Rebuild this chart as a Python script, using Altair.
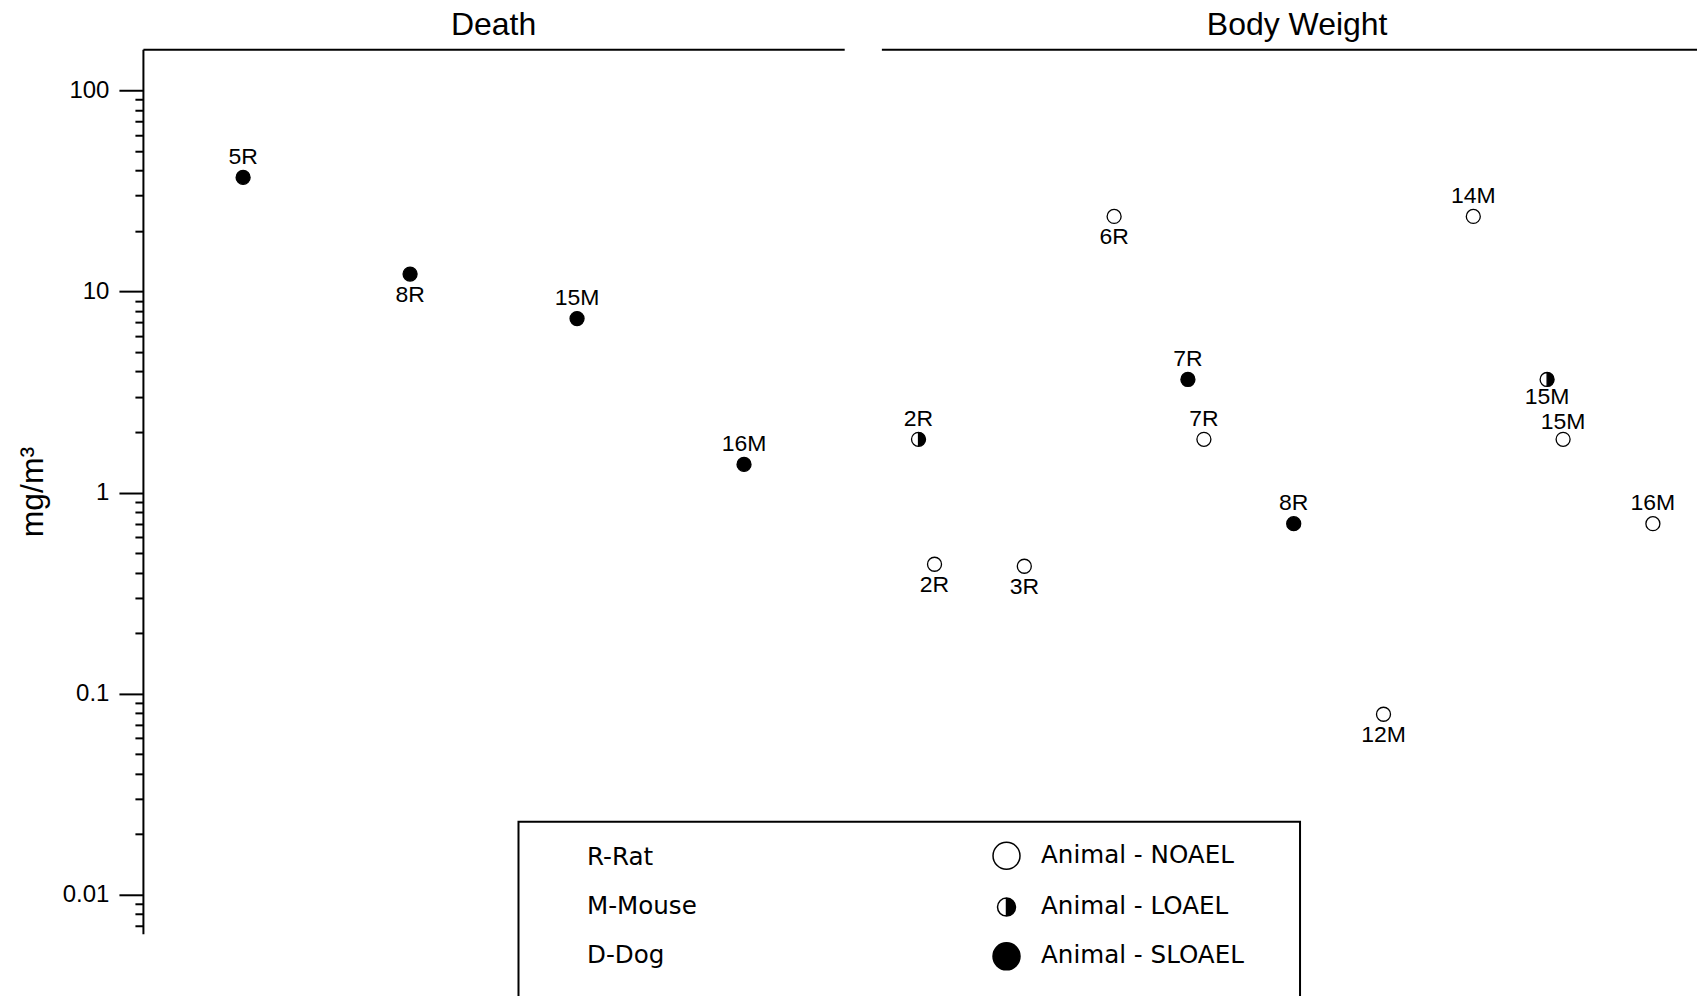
import altair as alt
import pandas as pd

# ---------------- data ----------------
death_study = ["5R", "8R", "15M", "16M"]
death_value = [36.9, 12.2, 7.33, 1.38]
death_level = ["SLOAEL", "SLOAEL", "SLOAEL", "SLOAEL"]
death_side = ["above", "below", "above", "above"]

bw_slots = ["2R", "3R", "6R", "7R", "8R", "12M", "14M", "15M", "16M"]
bw_study = ["2R", "2R", "3R", "6R", "7R", "7R", "8R", "12M", "14M", "15M", "15M", "16M"]
bw_value = [1.84, 0.44, 0.43, 23.6, 3.65, 1.84, 0.70, 0.079, 23.6, 3.65, 1.84, 0.70]
bw_level = ["LOAEL", "NOAEL", "NOAEL", "NOAEL", "SLOAEL", "NOAEL", "SLOAEL",
            "NOAEL", "NOAEL", "LOAEL", "NOAEL", "NOAEL"]
bw_side = ["above", "below", "below", "below", "above", "above", "above",
           "below", "above", "below_near", "above_near", "above"]

species_legend = ["R-Rat", "M-Mouse", "D-Dog"]
level_legend = ["Animal - NOAEL", "Animal - LOAEL", "Animal - SLOAEL"]

major_ticks = [0.01, 0.1, 1, 10, 100]
minor_mult = [2, 3, 4, 5, 6, 7, 8, 9]
y_domain = [0.0064, 160]

df = pd.DataFrame({
    "endpoint": ["Death"] * len(death_study) + ["Body Weight"] * len(bw_study),
    "study": death_study + bw_study,
    "value": death_value + bw_value,
    "level": death_level + bw_level,
    "side": death_side + bw_side,
})

# ---------------- scales / legend ----------------
EMPTY = "M0,0"
r = 0.667
HALF = (f"M0,-{r}A{r},{r},0,1,1,0,{r}A{r},{r},0,1,1,0,-{r}Z"
        f"M0,-{r}A{r},{r},0,0,0,0,{r}Z")
# legend fills column by column: species column, then exposure-level column
legend_domain = species_legend + [" "] + level_legend + ["  "]
shape_range = [EMPTY, EMPTY, EMPTY, EMPTY, "circle", HALF, "circle", EMPTY]
fill_range = ["transparent"] * 4 + ["white", "black", "black", "transparent"]
stroke_range = ["transparent"] * 4 + ["black", "black", "black", "transparent"]

PADCH = "\u2800" * 2
legend = alt.Legend(
    orient="none", legendX=375.8, legendY=773, columns=2, columnPadding=293.3,
    rowPadding=20.3, padding=19.5, strokeColor="black", title=None,
    symbolSize=729, symbolStrokeWidth=1.5,
    labelFont="DejaVu Sans", labelFontSize=24.6, labelOffset=20, labelColor="black",
    labelLimit=600,
    labelExpr="indexof(['Animal - NOAEL','Animal - LOAEL','Animal - SLOAEL'], datum.label) >= 0 ? datum.label + '" + PADCH + "' : datum.label",
)

tick_values = sorted(set(
    [v for v in major_ticks] +
    [round(m * d, 10) for d in [0.001, 0.01, 0.1, 1, 10] for m in minor_mult
     if y_domain[0] <= m * d <= y_domain[1]]
))
MAJOR = "abs(log(datum.value)/LN10 - round(log(datum.value)/LN10)) < 0.001"

FONT = "Liberation Sans"
label_dy = {"above": -20.5, "below": 20.5, "above_near": -17.5, "below_near": 17.5}


def panel(name, slots, width, show_axis, xscale, title_dx):
    if show_axis:
        y_axis = alt.Axis(
            values=tick_values,
            tickSize={"condition": {"test": MAJOR, "value": 24}, "value": 8},
            labelExpr=f"({MAJOR}) ? format(datum.value, '~g') : ''",
            tickWidth=2, tickColor="black", domainWidth=2, domainColor="black",
            labelFont=FONT, labelFontSize=24, labelColor="black", labelPadding=10,
            grid=False, title="mg/m³", titleFont=FONT, titleFontSize=32,
            titleFontWeight="normal", titleColor="black", titlePadding=12.7,
        )
    else:
        y_axis = None
    y = alt.Y("value:Q", scale=alt.Scale(type="log", domain=y_domain, nice=False), axis=y_axis)
    x = alt.X("study:N", sort=slots, scale=xscale,
              axis=alt.Axis(orient="top", labels=False, ticks=False, title=None,
                            domain=True, domainColor="black", domainWidth=2, grid=False))
    base = (alt.Chart(df)
            .transform_filter(alt.datum.endpoint == name)
            .transform_joinaggregate(n="count()", groupby=["study"])
            .transform_calculate(shift="datum.n > 1 && datum.level != 'NOAEL'",
                                 key="'Animal - ' + datum.level")
            .encode(x=x, y=y))
    layers = []
    for shifted in [False, True]:
        off = -16 if shifted else 0
        cond = "datum.shift" if shifted else "!datum.shift"
        for half in [False, True]:
            hcond = "datum.level == 'LOAEL'" if half else "datum.level != 'LOAEL'"
            pts = base.transform_filter(cond).transform_filter(hcond).mark_point(
                filled=True, size=(196 / (r * r)) if half else 196,
                strokeWidth=1.3, opacity=1, xOffset=off
            ).encode(
                shape=alt.Shape("key:N", scale=alt.Scale(domain=legend_domain, range=shape_range), legend=legend),
                fill=alt.Fill("key:N", scale=alt.Scale(domain=legend_domain, range=fill_range), legend=legend),
                stroke=alt.Stroke("key:N", scale=alt.Scale(domain=legend_domain, range=stroke_range), legend=legend),
            )
            layers.append(pts)
        for side, dy in label_dy.items():
            txt = base.transform_filter(cond).transform_filter(f"datum.side == '{side}'").mark_text(
                font=FONT, fontSize=23, color="black", dy=dy, dx=off
            ).encode(text="study:N")
            layers.append(txt)
    return alt.layer(*layers).properties(
        width=width, height=885,
        title=alt.TitleParams(name, font=FONT, fontSize=32, fontWeight="normal",
                              anchor="middle", baseline="alphabetic", offset=-17.6,
                              color="black", dx=title_dx),
    )


def build(legend_stroke):
    death = panel("Death", death_study, 701.7, True,
                  alt.Scale(type="point", padding=0.6, domain=death_study), 0)
    bw = panel("Body Weight", bw_slots, 816, False,
               alt.Scale(type="point", padding=0.5409, align=0.547, domain=bw_slots), 8)
    ch = (alt.hconcat(death, bw, spacing=36.9)
          .resolve_scale(y="shared", x="independent", fill="shared", shape="shared", stroke="shared")
          .resolve_legend(fill="shared", shape="shared", stroke="shared")
          .properties(padding={"left": 8, "top": 0, "right": 0, "bottom": 0}, background="white")
          .configure_view(stroke=None))
    if legend_stroke:
        ch = ch.configure_legend(strokeWidth=2)
    return ch


try:
    chart = build(True)
    chart.save("out.html", embed_options={"renderer": "svg", "actions": False})
except Exception:
    chart = build(False)
    chart.save("out.html", embed_options={"renderer": "svg", "actions": False})
